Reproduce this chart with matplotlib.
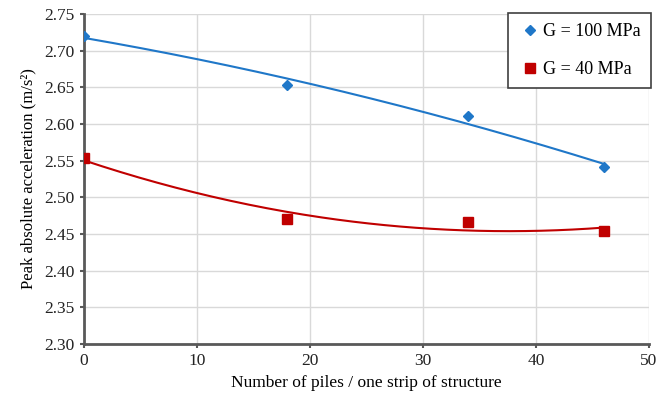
import numpy as np
import matplotlib.pyplot as plt

plt.rcParams['font.family'] = ['Liberation Serif', 'DejaVu Serif']

piles = [0, 18, 34, 46]
acc_g100 = [2.720, 2.653, 2.611, 2.541]
acc_g40 = [2.553, 2.471, 2.466, 2.454]

fig = plt.figure(figsize=(6.58, 3.96), dpi=100)
ax = fig.add_axes([0.1277, 0.1313, 0.8586, 0.8333])

# Excel-style 2nd order polynomial trendlines
xs = np.linspace(0, 46, 200)
for y, c in [(acc_g100, '#1f77c8'), (acc_g40, '#c00000')]:
    p = np.polyfit(piles, y, 2)
    ax.plot(xs, np.polyval(p, xs), color=c, lw=1.5, zorder=2)

ax.plot(piles, acc_g100, 'D', color='#1f77c8', ms=5, ls='none', label='G = 100 MPa', zorder=3)
ax.plot(piles, acc_g40, 's', color='#c00000', ms=7, ls='none', label='G = 40 MPa', zorder=3)

ax.set_xlim(0, 50)
ax.set_ylim(2.30, 2.75)
ax.set_xticks(np.arange(0, 51, 10))
ax.set_yticks(np.arange(2.30, 2.751, 0.05))
ax.yaxis.set_major_formatter(plt.FormatStrFormatter('%.2f'))
ax.grid(True, color='#d9d9d9', lw=1)
ax.set_axisbelow(True)
for s in ['top', 'right']:
    ax.spines[s].set_visible(False)
for s in ['left', 'bottom']:
    ax.spines[s].set_color('#595959')
    ax.spines[s].set_linewidth(2)
ax.tick_params(colors='#595959', labelcolor='#222222', labelsize=12.5, width=1.5, length=3)
ax.set_xlabel('Number of piles / one strip of structure', fontsize=12.5, labelpad=4)
ax.set_ylabel('Peak absolute acceleration (m/s²)', fontsize=12, labelpad=6)

leg = ax.legend(loc='upper right', bbox_to_anchor=(1.003, 1.002), fontsize=13, frameon=True,
                fancybox=False, edgecolor='#404040', framealpha=1, handlelength=1.4,
                handletextpad=0.0, labelspacing=1.15, borderpad=0.55, borderaxespad=0)
leg.get_frame().set_linewidth(1.2)

fig.savefig('out.png', dpi=100)
